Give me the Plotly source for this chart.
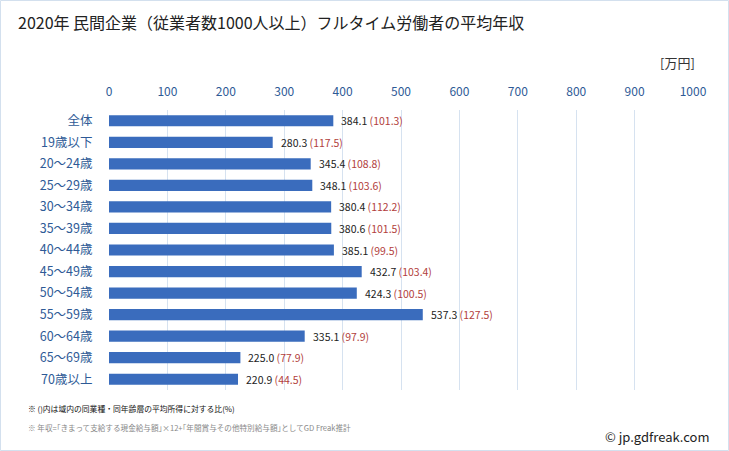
import plotly.graph_objects as go

categories = ["全体", "19歳以下", "20～24歳", "25～29歳", "30～34歳", "35～39歳", "40～44歳",
              "45～49歳", "50～54歳", "55～59歳", "60～64歳", "65～69歳", "70歳以上"]
values = [384.1, 280.3, 345.4, 348.1, 380.4, 380.6, 385.1, 432.7, 424.3, 537.3, 335.1, 225.0, 220.9]
ratios = [101.3, 117.5, 108.8, 103.6, 112.2, 101.5, 99.5, 103.4, 100.5, 127.5, 97.9, 77.9, 44.5]
tick_vals = [0, 100, 200, 300, 400, 500, 600, 700, 800, 900, 1000]

W, H = 729, 451
ML, MR, MT, MB = 109, 36, 110, 61
PW, PH = W - ML - MR, H - MT - MB
FONT = "Noto Sans CJK JP, Noto Sans, sans-serif"

fig = go.Figure(go.Bar(
    y=categories, x=values, orientation="h",
    marker=dict(color="#3a6cbd", line=dict(width=0)),
    width=0.52,
))

annotations = []
for c, v, r in zip(categories, values, ratios):
    annotations.append(dict(
        x=v, y=c, xref="x", yref="y", xanchor="left", yanchor="middle",
        xshift=6, showarrow=False,
        text=f"{v:.1f} <span style='color:#b2403c'>({r:.1f})</span>",
        font=dict(size=10.5, color="#222222", family=FONT),
    ))

extra = [
    dict(x=16, y=22, xanchor="left", text="2020年 民間企業（従業者数1000人以上）フルタイム労働者の平均年収",
         size=16, color="#222222"),
    dict(x=697, y=63, xanchor="right", text="[万円]", size=13, color="#333333"),
    dict(x=26, y=408, xanchor="left", text="※ ()内は域内の同業種・同年齢層の平均所得に対する比(%)",
         size=7.8, color="#111111"),
    dict(x=26, y=427, xanchor="left",
         text="※ 年収=｢きまって支給する現金給与額｣×12+｢年間賞与その他特別給与額｣としてGD Freak推計",
         size=7.6, color="#888888"),
    dict(x=712, y=436, xanchor="right", text="© jp.gdfreak.com", size=13, color="#222222"),
]
for e in extra:
    annotations.append(dict(
        x=(e["x"] - ML) / PW, y=(H - e["y"] - MB) / PH, xref="paper", yref="paper",
        xanchor=e["xanchor"], yanchor="middle", showarrow=False, text=e["text"],
        font=dict(size=e["size"], color=e["color"], family=FONT)))

shapes = [dict(type="rect", xref="paper", yref="paper",
               x0=(0.5 - ML) / PW, x1=(W - 0.5 - ML) / PW,
               y0=(0.5 - MB) / PH, y1=(H - 0.5 - MB) / PH,
               line=dict(color="#d3e0ee", width=1), fillcolor="rgba(0,0,0,0)", layer="below")]

fig.update_layout(
    width=W, height=H,
    margin=dict(l=ML, r=MR, t=MT, b=MB, pad=0),
    paper_bgcolor="white", plot_bgcolor="white",
    showlegend=False,
    annotations=annotations,
    shapes=shapes,
    xaxis=dict(side="top", range=[0, 1000], tickvals=tick_vals, ticktext=[str(t) for t in tick_vals],
               showgrid=True, gridcolor="#d6e2f0", gridwidth=1, zeroline=False,
               showline=False, ticks="outside", ticklen=8, tickcolor="rgba(0,0,0,0)",
               tickfont=dict(size=12, color="#2e5a96", family=FONT), fixedrange=True),
    yaxis=dict(autorange="reversed", showgrid=False, zeroline=False, showline=False,
               ticks="outside", ticklen=13, tickcolor="rgba(0,0,0,0)",
               tickfont=dict(size=12.5, color="#2e5a96", family=FONT), fixedrange=True),
)

fig.write_html("out.html", config={"displayModeBar": False},
               post_script="document.body.style.margin='0';document.body.style.overflow='hidden';")
